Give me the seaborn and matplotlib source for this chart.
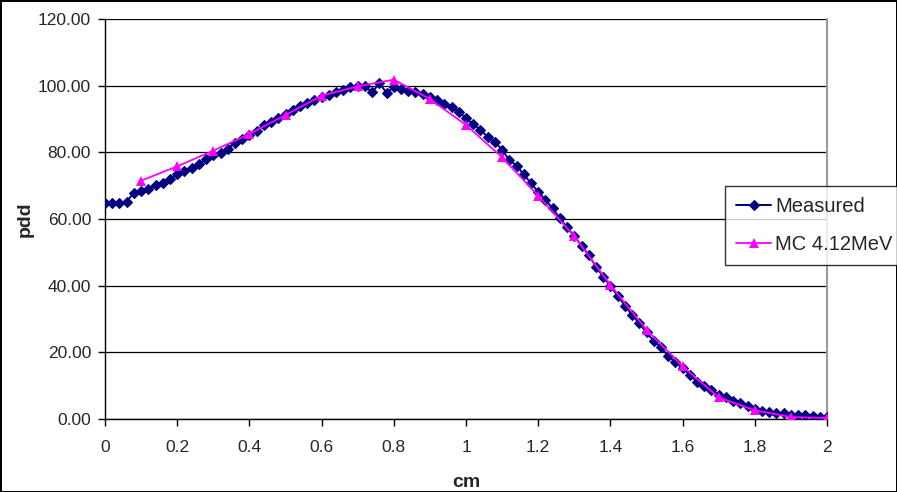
import numpy as np
import pandas as pd
import matplotlib
matplotlib.use("Agg")
import matplotlib.pyplot as plt
from matplotlib.ticker import FormatStrFormatter
import seaborn as sns

# ---- data ----
measured_x = [round(0.02 * i, 2) for i in range(101)]
measured_y = [
    64.7, 64.7, 64.7, 65.2, 67.9, 68.5, 69.1, 70.1, 70.9, 71.9,
    73.5, 74.5, 75.4, 76.4, 77.9, 79.2, 79.7, 81.1, 82.9, 84.1,
    85.3, 86.5, 88.1, 89.0, 90.4, 91.5, 92.7, 93.9, 94.9, 95.7,
    96.6, 97.2, 98.0, 98.7, 99.6, 99.8, 99.9, 98.0, 100.7, 97.9,
    99.5, 99.0, 98.5, 98.2, 97.5, 96.6, 95.7, 94.6, 93.5, 92.2,
    90.2, 88.5, 86.7, 84.7, 83.2, 80.7, 77.7, 76.0, 73.4, 70.7,
    68.2, 65.7, 63.2, 60.2, 57.5, 54.8, 52.0, 49.2, 45.7, 42.7,
    39.9, 37.0, 34.0, 31.2, 28.7, 26.0, 23.4, 21.5, 18.9, 17.0,
    15.3, 13.2, 11.2, 9.9, 8.7, 7.2, 6.5, 5.4, 4.7, 4.0,
    3.0, 2.5, 2.0, 1.7, 1.7, 1.2, 1.2, 1.2, 0.8, 0.7,
    0.5,
]
mc_x = [0.1, 0.2, 0.3, 0.4, 0.5, 0.6, 0.7, 0.8, 0.9, 1.0,
        1.1, 1.2, 1.3, 1.4, 1.5, 1.6, 1.7, 1.8, 1.9, 2.0]
mc_y = [71.5, 75.8, 80.5, 85.5, 91.2, 97.0, 99.8, 101.8, 96.0, 88.2,
        78.5, 67.0, 54.8, 40.2, 26.8, 15.8, 6.5, 2.6, 0.6, 0.3]
y_ticks = [0, 20, 40, 60, 80, 100, 120]
x_ticks = [0, 0.2, 0.4, 0.6, 0.8, 1.0, 1.2, 1.4, 1.6, 1.8, 2.0]
x_tick_labels = ["0", "0.2", "0.4", "0.6", "0.8", "1", "1.2", "1.4", "1.6", "1.8", "2"]

df_meas = pd.DataFrame({"cm": measured_x, "pdd": measured_y})
df_mc = pd.DataFrame({"cm": mc_x, "pdd": mc_y})

sns.set_style("white")
plt.rcParams["font.family"] = ["Liberation Sans", "DejaVu Sans"]

fig = plt.figure(figsize=(8.97, 4.92), dpi=100)
fig.patch.set_edgecolor("black")
fig.patch.set_linewidth(2)
ax = fig.add_axes([105 / 897, 1 - 419 / 492, (827 - 105) / 897, (419 - 19) / 492])

sns.lineplot(data=df_meas, x="cm", y="pdd", ax=ax, color="#000080",
             marker="D", markersize=4.6, markeredgewidth=0.8,
             markeredgecolor="#000080", linewidth=1.4, label="Measured",
             zorder=3)
sns.lineplot(data=df_mc, x="cm", y="pdd", ax=ax, color="#FF00FF",
             marker="^", markersize=7.5, markeredgewidth=0,
             linewidth=1.3, label="MC 4.12MeV", zorder=4)

ax.set_xlim(0, 2)
ax.set_ylim(0, 120)
ax.set_yticks(y_ticks)
ax.yaxis.set_major_formatter(FormatStrFormatter("%.2f"))
ax.set_xticks(x_ticks)
ax.set_xticklabels(x_tick_labels)

ax.grid(axis="y", color="black", linewidth=0.9)
ax.grid(axis="x", visible=False)
ax.set_axisbelow(True)
for s in ["left", "bottom"]:
    ax.spines[s].set_color("black")
    ax.spines[s].set_linewidth(1.0)
ax.spines["top"].set_visible(False)
ax.spines["right"].set_color("#9a9a9a")
ax.spines["right"].set_linewidth(1.5)

ax.tick_params(axis="both", direction="out", length=5, width=1.0,
               color="black", labelsize=12.5, left=True, bottom=True)
ax.tick_params(axis="x", pad=10)
ax.tick_params(axis="y", pad=5)

ax.set_xlabel("cm", fontsize=14, fontweight="bold", labelpad=14)
ax.set_ylabel("pdd", fontsize=14, fontweight="bold", labelpad=3)

leg = ax.legend(loc="upper left",
                bbox_to_anchor=(725 / 897, 1 - 186 / 492, 0.25, 0.0001),
                bbox_transform=fig.transFigure, mode="expand",
                fontsize=14.5, frameon=True, fancybox=False, shadow=False,
                borderpad=0.55, labelspacing=0.95, handlelength=1.75,
                handletextpad=0.2, borderaxespad=0)
leg.get_frame().set_edgecolor("black")
leg.get_frame().set_linewidth(1.0)
leg.set_zorder(10)

fig.savefig("out.png", dpi=100)
